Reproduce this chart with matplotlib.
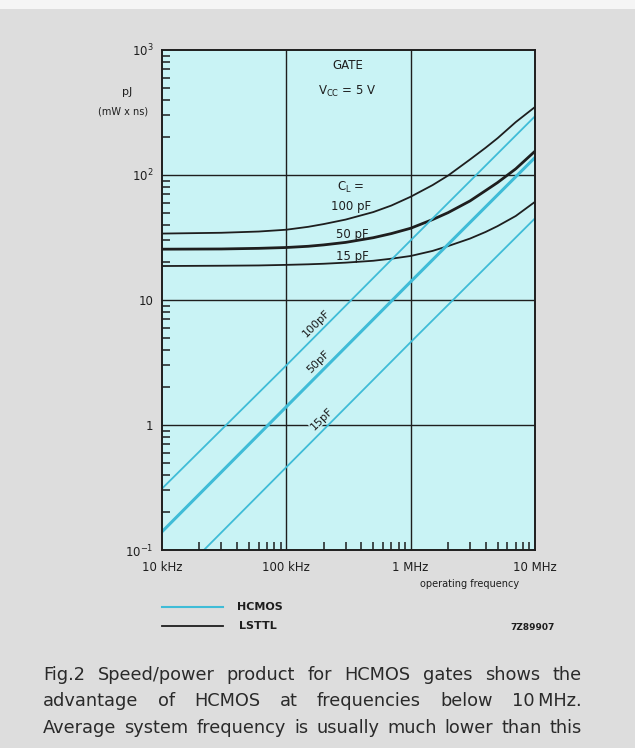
import numpy as np
import matplotlib
matplotlib.use("Agg")
import matplotlib.pyplot as plt
from matplotlib.lines import Line2D
from matplotlib.patches import Rectangle
from matplotlib.ticker import LogLocator, NullFormatter, FixedLocator

plt.rcParams['font.family'] = ['DejaVu Sans']
plt.rcParams['mathtext.default'] = 'regular'

# ------------------------
# Data
# ------------------------

# HCMOS (cyan, straight lines in log-log)
hc_freq = [1e4, 1e5, 1e6, 1e7]
hc_100 = [0.31, 3.0, 30, 295]
hc_50 = [0.14, 1.4, 14, 138]
hc_15 = [0.046, 0.46, 4.6, 45]

# LSTTL (black curves)
ls_freq = [1e4, 3e4, 6e4, 1e5, 1.5e5, 2e5, 3e5, 5e5, 7e5, 1e6, 1.5e6, 2e6, 3e6,
           4e6, 5e6, 7e6, 1e7]
ls_100 = [34, 34.5, 35.3, 36.5, 38.5, 40.5, 44, 50.5, 57, 67, 83, 99, 133,
          165, 197, 265, 350]
ls_50 = [25.5, 25.6, 25.9, 26.3, 26.9, 27.6, 28.9, 31.5, 34, 37.5, 44, 50, 62,
         75, 87, 112, 155]
ls_15 = [18.7, 18.8, 18.9, 19.1, 19.3, 19.5, 19.9, 20.6, 21.4, 22.5, 24.7, 27, 31,
         35, 39, 47, 61]

x_ticks = [1e4, 1e5, 1e6, 1e7]
x_ticklabels = ["10 kHz", "100 kHz", "1 MHz", "10 MHz"]
y_ticks = [0.1, 1, 10, 100, 1000]
y_ticklabels = [r"$10^{-1}$", "1", "10", r"$10^2$", r"$10^3$"]

caption = [
    ["Fig.2", "Speed/power", "product", "for", "HCMOS", "gates", "shows", "the"],
    ["advantage", "of", "HCMOS", "at", "frequencies", "below", "10\u2009MHz."],
    ["Average", "system", "frequency", "is", "usually", "much", "lower", "than", "this"],
]

# ------------------------
# Colours / geometry
# ------------------------

W, H = 635, 748
PAGE = "#dddddd"
PLOT_BG = "#c9f3f5"
CYAN = "#3fbcd7"
INK = "#1e1e1e"


def fx(px):
    return px / W


def fy(py):
    return 1 - py / H


fig = plt.figure(figsize=(W / 100, H / 100), dpi=100, facecolor=PAGE)
fig.add_artist(Rectangle((0, fy(9)), 1, 9 / H, transform=fig.transFigure,
                         facecolor="#f5f5f5", edgecolor="none"))

ax = fig.add_axes([fx(162), fy(550), fx(535) - fx(162), (550 - 50) / H])
ax.set_facecolor(PLOT_BG)
ax.set_xscale("log")
ax.set_yscale("log")
ax.set_xlim(1e4, 1e7)
ax.set_ylim(0.1, 1000)

# grid at decades
for v in x_ticks[1:-1]:
    ax.axvline(v, color=INK, lw=1.0, zorder=1)
for v in y_ticks[1:-1]:
    ax.axhline(v, color=INK, lw=1.0, zorder=1)

# LSTTL
ax.plot(ls_freq, ls_100, color=INK, lw=1.3, zorder=2)
ax.plot(ls_freq, ls_50, color=INK, lw=2.0, zorder=2)
ax.plot(ls_freq, ls_15, color=INK, lw=1.3, zorder=2)

# HCMOS
ax.plot(hc_freq, hc_100, color=CYAN, lw=1.3, zorder=3)
ax.plot(hc_freq, hc_50, color=CYAN, lw=2.2, zorder=3)
ax.plot(hc_freq, hc_15, color=CYAN, lw=1.3, zorder=3)

# ticks
ax.xaxis.set_major_locator(FixedLocator(x_ticks))
ax.set_xticklabels(x_ticklabels)
ax.yaxis.set_major_locator(FixedLocator(y_ticks))
ax.set_yticklabels(y_ticklabels)
ax.xaxis.set_minor_locator(LogLocator(base=10, subs=np.arange(2, 10)))
ax.yaxis.set_minor_locator(LogLocator(base=10, subs=np.arange(2, 10)))
ax.xaxis.set_minor_formatter(NullFormatter())
ax.yaxis.set_minor_formatter(NullFormatter())
ax.tick_params(which="major", length=0, labelsize=8.5, colors=INK)
ax.tick_params(axis="x", which="major", pad=8)
ax.tick_params(axis="y", which="major", pad=6)
ax.tick_params(which="minor", direction="in", length=6, width=1.1, color=INK)
ax.tick_params(top=False, right=False, which="both")
for s in ax.spines.values():
    s.set_color(INK)
    s.set_linewidth(1.4)
    s.set_zorder(4)

# annotations
ax.text(3.1e5, 745, "GATE", ha="center", va="center", fontsize=8.5, color=INK)
ax.text(3.1e5, 470, r"V$_{CC}$ = 5 V", ha="center", va="center", fontsize=8.5, color=INK)
ax.text(3.3e5, 80, r"C$_L$ =", ha="center", va="center", fontsize=8.5, color=INK)
ax.text(3.3e5, 56, "100 pF", ha="center", va="center", fontsize=8.5, color=INK)
ax.text(3.4e5, 33.5, "50 pF", ha="center", va="center", fontsize=8.5, color=INK)
ax.text(3.4e5, 22.3, "15 pF", ha="center", va="center", fontsize=8.5, color=INK)

lbl_box = dict(facecolor=PLOT_BG, edgecolor="none", pad=0.5)
ax.text(1.75e5, 6.5, "100pF", rotation=45, ha="center", va="center",
        fontsize=8, color=INK, bbox=lbl_box, zorder=5)
ax.text(1.8e5, 3.2, "50pF", rotation=45, ha="center", va="center",
        fontsize=8, color=INK, bbox=lbl_box, zorder=5)
ax.text(1.92e5, 1.13, "15pF", rotation=45, ha="center", va="center",
        fontsize=8, color=INK, bbox=lbl_box, zorder=5)

# y label
fig.text(fx(127), fy(92), "pJ", ha="center", va="center", fontsize=8, color=INK)
fig.text(fx(123), fy(112), "(mW x ns)", ha="center", va="center", fontsize=7, color=INK)

# x label
fig.text(fx(470), fy(584), "operating frequency", ha="center", va="center",
         fontsize=7, color=INK)

# legend
fig.add_artist(Line2D([fx(162), fx(223)], [fy(607)] * 2, color=CYAN, lw=1.5))
fig.add_artist(Line2D([fx(162), fx(223)], [fy(626)] * 2, color=INK, lw=1.3))
fig.text(fx(237), fy(607), "HCMOS", ha="left", va="center", fontsize=8,
         fontweight="bold", color=INK)
fig.text(fx(239), fy(626), "LSTTL", ha="left", va="center", fontsize=8,
         fontweight="bold", color=INK)
fig.text(fx(555), fy(628), "7Z89907", ha="right", va="center", fontsize=6.5,
         fontweight="bold", color=INK)

# caption, justified between two edges
renderer = fig.canvas.get_renderer()
left_px, right_px = 43, 582
baselines = [680, 706.5, 733]
for words, base in zip(caption, baselines):
    items = [fig.text(0, fy(base), w, ha="left", va="baseline", fontsize=12.8,
                      color="#2a2a2a") for w in words]
    widths = [t.get_window_extent(renderer).width for t in items]
    gap = (right_px - left_px - sum(widths)) / (len(words) - 1)
    x = left_px
    for t, w in zip(items, widths):
        t.set_x(fx(x))
        x += w + gap

fig.savefig("out.png", dpi=100, facecolor=PAGE)
